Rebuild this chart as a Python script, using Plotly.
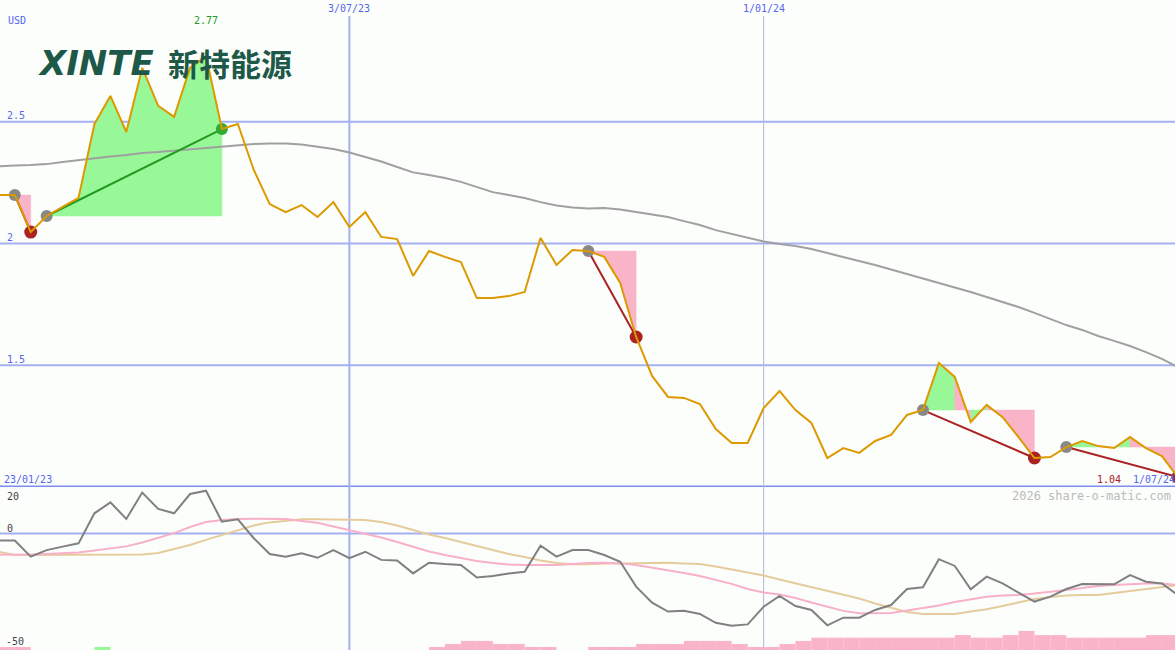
import plotly.graph_objects as go
import pandas as pd

# ---------------- data ----------------
dates = pd.date_range("2023-01-23", periods=76, freq="7D")

price = [2.199, 2.199, 2.199, 2.047, 2.113, 2.150, 2.187, 2.491, 2.606, 2.458,
         2.721, 2.565, 2.520, 2.721, 2.770, 2.470, 2.491, 2.302, 2.162, 2.129,
         2.158, 2.109, 2.170, 2.068, 2.129, 2.027, 2.018, 1.867, 1.969, 1.945,
         1.924, 1.776, 1.776, 1.784, 1.801, 2.023, 1.912, 1.973, 1.969, 1.945,
         1.838, 1.616, 1.456, 1.370, 1.366, 1.341, 1.238, 1.181, 1.181, 1.324,
         1.394, 1.316, 1.263, 1.119, 1.160, 1.140, 1.189, 1.214, 1.296, 1.316,
         1.509, 1.452, 1.267, 1.337, 1.287, 1.205, 1.119, 1.123, 1.164, 1.189,
         1.168, 1.160, 1.205, 1.160, 1.127, 1.041]

ma_long = [2.314, 2.318, 2.320, 2.322, 2.326, 2.335, 2.343, 2.351, 2.357, 2.363,
           2.372, 2.376, 2.382, 2.388, 2.394, 2.400, 2.405, 2.409, 2.411, 2.411,
           2.407, 2.398, 2.388, 2.374, 2.355, 2.337, 2.314, 2.292, 2.281, 2.269,
           2.253, 2.232, 2.211, 2.199, 2.187, 2.170, 2.156, 2.148, 2.144, 2.146,
           2.140, 2.129, 2.119, 2.109, 2.092, 2.076, 2.055, 2.039, 2.023, 2.008,
           1.998, 1.990, 1.977, 1.961, 1.943, 1.928, 1.912, 1.893, 1.875, 1.856,
           1.838, 1.819, 1.801, 1.780, 1.760, 1.739, 1.715, 1.690, 1.665, 1.645,
           1.620, 1.600, 1.579, 1.554, 1.526, 1.493]

momentum = [-3.0, -3.0, -3.0, -9.9, -7.1, -5.6, -4.2, 8.7, 13.4, 6.3,
            17.6, 10.6, 8.7, 17.0, 18.4, 5.1, 6.1, -2.0, -8.8, -9.9,
            -8.5, -10.4, -7.1, -10.6, -7.8, -11.3, -11.6, -17.1, -12.5, -13.1,
            -13.5, -18.9, -18.2, -17.1, -16.4, -5.2, -9.9, -7.1, -7.1, -9.2,
            -12.1, -22.8, -29.7, -33.5, -33.1, -34.5, -38.3, -39.6, -39.0, -31.4,
            -26.8, -31.1, -32.8, -39.4, -36.1, -36.1, -32.8, -30.7, -23.8, -23.1,
            -11.0, -13.9, -23.9, -18.5, -21.4, -25.4, -29.2, -27.1, -23.8, -21.7,
            -21.8, -21.8, -17.8, -20.7, -21.4, -26.4]

mom_avg_fast = [-9.2, -9.2, -9.2, -9.0, -8.8, -8.5, -8.1, -7.3, -6.4, -5.5,
                -3.8, -1.9, 0.2, 2.8, 5.0, 5.8, 6.3, 6.4, 6.4, 6.3,
                5.4, 4.6, 3.0, 1.5, 0.0, -1.7, -3.6, -5.5, -7.7, -9.2,
                -10.5, -11.8, -12.6, -13.3, -13.5, -13.5, -13.5, -13.1, -12.6, -12.5,
                -12.8, -13.5, -14.6, -15.6, -16.9, -18.2, -19.9, -21.6, -23.8, -25.3,
                -26.2, -27.7, -29.6, -31.5, -33.2, -34.2, -34.2, -34.1, -33.0, -32.0,
                -30.9, -29.4, -28.1, -27.1, -26.6, -26.4, -25.7, -25.1, -24.2, -23.4,
                -22.5, -22.1, -21.6, -21.4, -21.4, -22.1]

mom_avg_slow = [-7.5, -7.8, -9.2, -9.2, -9.2, -9.0, -9.0, -9.0, -9.0, -9.0,
                -9.0, -8.3, -6.6, -4.9, -2.7, -0.6, 1.5, 3.5, 4.8, 5.6,
                6.1, 6.1, 6.1, 6.1, 5.8, 5.0, 3.5, 1.5, -0.4, -1.9,
                -3.6, -5.5, -7.3, -8.8, -10.1, -11.6, -12.6, -13.2, -13.2, -12.8,
                -12.8, -12.6, -12.5, -12.5, -12.8, -13.1, -14.1, -15.4, -16.9, -18.0,
                -19.7, -21.4, -23.1, -24.6, -26.2, -27.9, -30.0, -32.0, -33.7, -34.5,
                -34.5, -34.5, -33.5, -32.5, -31.1, -29.6, -28.1, -27.2, -26.6, -26.4,
                -26.4, -25.5, -24.6, -23.8, -22.9, -22.1]

N = None
bar_down = [N, 1.3, 1.3, N, N, N, N, N, N, N,
            N, N, N, N, N, N, N, N, N, N,
            N, N, N, N, N, N, N, N, 1.3, 2.6,
            3.9, 3.9, 2.6, 2.6, 1.3, 1.3, N, N, 1.3, 1.3,
            1.3, 2.6, 2.6, 2.6, 3.9, 3.9, 3.9, 2.6, 1.3, 1.3,
            2.6, 3.9, 5.3, 5.3, 5.3, 5.3, 5.3, 5.3, 5.3, 5.3,
            5.3, 6.4, 5.3, 5.3, 6.4, 8.2, 6.4, 6.4, 5.3, 5.3,
            5.3, 5.3, 5.3, 6.4, 6.4, 6.4]
bar_up = [N] * 76
bar_up[7] = 1.3

trend_start = [2, 4, 38, 59, 68]
trend_end = [3, 15, 41, 66, 75]
trend_up = [False, True, False, False, False]

x_tick_dates = ["2023-07-03", "2024-01-01"]
x_tick_text = ["3/07/23", "1/01/24"]
y_grid = [1.5, 2.0, 2.5]
y_grid_text = ["1.5", "2", "2.5"]

# ---------------- styling ----------------
BG = "#fcfefc"
BLUE_TXT = "#5566ee"
GRID = "#a4b0f2"
GREEN_FILL = "#98f898"
PINK_FILL = "#fab4c8"
PRICE_C = "#dd9900"
RED = "#aa2222"
GREEN = "#229922"
MONO = "DejaVu Sans Mono"

W, H = 1175, 650
split = 163 / 650.0

fig = go.Figure()

# shaded areas between price and the level at each trend start,
# coloured per week by whether the week closes above or below that level
gx, gy, px_, py_ = [], [], [], []
for s, e in zip(trend_start, trend_end):
    b = price[s]
    for k in range(s, e):
        poly_x = [dates[k], dates[k], dates[k + 1], dates[k + 1], dates[k], None]
        poly_y = [b, price[k], price[k + 1], b, b, None]
        if price[k + 1] > b:
            gx += poly_x
            gy += poly_y
        else:
            px_ += poly_x
            py_ += poly_y
for xs, ys, col in ((gx, gy, GREEN_FILL), (px_, py_, PINK_FILL)):
    fig.add_trace(go.Scatter(x=xs, y=ys, mode="lines", fill="toself",
                             fillcolor=col, line=dict(width=0.5, color=col),
                             connectgaps=False, hoverinfo="skip", showlegend=False))

# long moving average
fig.add_trace(go.Scatter(x=dates, y=ma_long, mode="lines",
                         line=dict(color="#a0a0a0", width=2),
                         hoverinfo="skip", showlegend=False))

# trend lines
for s, e, up in zip(trend_start, trend_end, trend_up):
    fig.add_trace(go.Scatter(x=[dates[s], dates[e]], y=[price[s], price[e]],
                             mode="lines",
                             line=dict(color=GREEN if up else RED, width=2),
                             hoverinfo="skip", showlegend=False))

# pivot dots
fig.add_trace(go.Scatter(x=[dates[i] for i in trend_start],
                         y=[price[i] for i in trend_start], mode="markers",
                         marker=dict(color="#888888", size=12, line=dict(width=0)),
                         hoverinfo="skip", showlegend=False))
fig.add_trace(go.Scatter(x=[dates[i] for i, u in zip(trend_end, trend_up) if not u],
                         y=[price[i] for i, u in zip(trend_end, trend_up) if not u],
                         mode="markers",
                         marker=dict(color=RED, size=13, line=dict(width=0)),
                         hoverinfo="skip", showlegend=False))
fig.add_trace(go.Scatter(x=[dates[i] for i, u in zip(trend_end, trend_up) if u],
                         y=[price[i] for i, u in zip(trend_end, trend_up) if u],
                         mode="markers",
                         marker=dict(color="#33aa33", size=12, line=dict(width=0)),
                         hoverinfo="skip", showlegend=False))

# price line
fig.add_trace(go.Scatter(x=dates, y=price, mode="lines",
                         line=dict(color=PRICE_C, width=2),
                         hoverinfo="skip", showlegend=False))

# lower panel
wk = 7 * 24 * 3600 * 1000
fig.add_trace(go.Bar(x=dates, y=bar_down, base=-50, offset=0, width=wk,
                     marker=dict(color=PINK_FILL, line=dict(width=0)),
                     yaxis="y2", hoverinfo="skip", showlegend=False))
fig.add_trace(go.Bar(x=dates, y=bar_up, base=-50, offset=0, width=wk,
                     marker=dict(color=GREEN_FILL, line=dict(width=0)),
                     yaxis="y2", hoverinfo="skip", showlegend=False))
fig.add_trace(go.Scatter(x=dates, y=mom_avg_slow, mode="lines",
                         line=dict(color="#e6cc9c", width=2), yaxis="y2",
                         hoverinfo="skip", showlegend=False))
fig.add_trace(go.Scatter(x=dates, y=mom_avg_fast, mode="lines",
                         line=dict(color="#f8b0c8", width=2), yaxis="y2",
                         hoverinfo="skip", showlegend=False))
fig.add_trace(go.Scatter(x=dates, y=momentum, mode="lines",
                         line=dict(color="#808080", width=2), yaxis="y2",
                         hoverinfo="skip", showlegend=False))

shapes = []
for v in y_grid:
    shapes.append(dict(type="line", xref="paper", yref="y", x0=0, x1=1, y0=v, y1=v,
                       line=dict(color=GRID, width=2), layer="below"))
shapes.append(dict(type="line", xref="paper", yref="y", x0=0, x1=1, y0=1.0, y1=1.0,
                   line=dict(color="#7b8ef0", width=3), layer="below"))
shapes.append(dict(type="line", xref="paper", yref="y2", x0=0, x1=1, y0=0, y1=0,
                   line=dict(color=GRID, width=2), layer="below"))
shapes.append(dict(type="line", xref="x", yref="paper", x0=x_tick_dates[0], x1=x_tick_dates[0],
                   y0=0, y1=1 - 16 / H, line=dict(color=GRID, width=2), layer="below"))
shapes.append(dict(type="line", xref="x", yref="paper", x0=x_tick_dates[1], x1=x_tick_dates[1],
                   y0=0, y1=1 - 16 / H, line=dict(color="#b0b8dc", width=1), layer="below"))

ann = []


def txt(x, y, s, color, size=10, xanchor="left", xref="paper", family=MONO, **kw):
    ann.append(dict(x=x, y=1 - y / H, xref=xref, yref="paper", text=s, showarrow=False,
                    xanchor=xanchor, yanchor="middle",
                    font=dict(family=family, size=size, color=color, **kw)))


txt(6 / W, 20, "USD", BLUE_TXT)
imax = price.index(max(price))
txt(dates[imax], 20, f"{max(price):.2f}", GREEN, xanchor="center", xref="x")
for d, t in zip(x_tick_dates, x_tick_text):
    txt(d, 8, t, BLUE_TXT, xanchor="center", xref="x")
for v, t in zip(y_grid, y_grid_text):
    ypix = (3.0 - v) / 2.0 * 487
    txt(5 / W, ypix - 6, t, BLUE_TXT)
txt(2 / W, 479, dates[0].strftime("%d/%m/%y"), BLUE_TXT)
txt(1123 / W, 479, f"{price[-1]:.2f}", RED, xanchor="right")
txt(1131 / W, 479, f"{dates[-1].day}/{dates[-1].strftime('%m/%y')}", BLUE_TXT)
txt(1173 / W, 496, "2026 share-o-matic.com", "#bbbbbb", size=12, xanchor="right")
txt(5 / W, 496, "20", "#444444")
txt(5 / W, 528, "0", "#444444")
txt(4 / W, 641, "-50", "#444444")
# logo
txt(36 / W, 63, "XINTE", "#1d5848", size=34, family="DejaVu Sans", weight="bold", style="italic")
txt(166 / W, 63, "新特能源", "#1d5848", size=31, family="Noto Sans CJK SC", weight="bold")

fig.update_layout(
    width=W, height=H,
    margin=dict(l=0, r=0, t=0, b=0),
    paper_bgcolor=BG, plot_bgcolor=BG,
    barmode="overlay",
    showlegend=False,
    hovermode=False,
    shapes=shapes,
    annotations=ann,
    xaxis=dict(range=["2023-01-30 12:00", "2024-06-29 18:00"], showgrid=False, zeroline=False,
               showticklabels=False, showline=False, ticks="", anchor="y2"),
    yaxis=dict(domain=[split, 1], range=[1.0, 3.0], showgrid=False, zeroline=False,
               showticklabels=False, showline=False, ticks=""),
    yaxis2=dict(domain=[0, split], range=[-50, 20], showgrid=False, zeroline=False,
                showticklabels=False, showline=False, ticks=""),
)

fig.write_html("out.html", config={"displayModeBar": False, "staticPlot": True},
               post_script="document.body.style.margin='0';document.body.style.padding='0';"
                           "document.body.style.background='%s';" % BG)
